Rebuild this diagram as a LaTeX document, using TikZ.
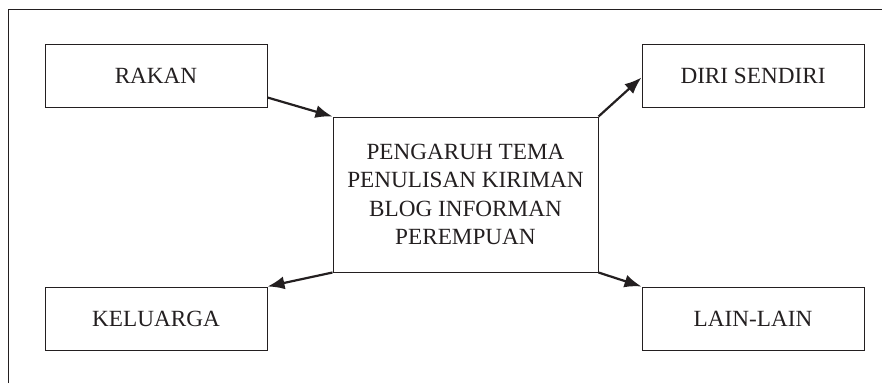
\documentclass[tikz,border=0pt]{standalone}
\usepackage{fontspec}
\setmainfont{Liberation Serif}
\usetikzlibrary{arrows.meta}
\definecolor{ink}{HTML}{231F20}
\tikzset{
  boxnode/.style={draw=ink, line width=1pt, text=ink, minimum width=222pt, minimum height=63pt, inner sep=0pt, font=\fontsize{23.2}{28.3}\selectfont, align=center},
  centernode/.style={draw=ink, line width=1pt, text=ink, minimum width=265pt, minimum height=155pt, inner sep=0pt, font=\fontsize{23.2}{28.3}\selectfont, align=center},
  conn/.style={draw=ink, line width=2.2pt, -{Latex[length=17pt,width=13pt]}},
  framestyle/.style={draw=ink, line width=1pt}
}
\begin{document}
\begin{tikzpicture}[x=1pt,y=1pt]
\useasboundingbox (0,0) rectangle (882,-383);
\draw[framestyle] (8,-383) -- (8,-9) -- (882,-9);
\node[boxnode] (rakan) at (156,-75.5) {RAKAN};
\node[boxnode] (diri) at (753,-75.5) {DIRI SENDIRI};
\node[boxnode] (kel) at (156,-318.5) {KELUARGA};
\node[boxnode] (lain) at (753,-318.5) {LAIN-LAIN};
\node[centernode] (c) at (465.5,-194.5) {PENGARUH TEMA\\PENULISAN KIRIMAN\\BLOG INFORMAN\\PEREMPUAN};
\coordinate (rakanout) at ([yshift=-22pt]rakan.east);
\coordinate (diriin) at ([yshift=-2pt]diri.west);
\draw[conn] (rakanout) -- (c.north west);
\draw[conn] (c.north east) -- (diriin);
\draw[conn] (c.south west) -- (kel.north east);
\draw[conn] (c.south east) -- (lain.north west);
\end{tikzpicture}
\end{document}
